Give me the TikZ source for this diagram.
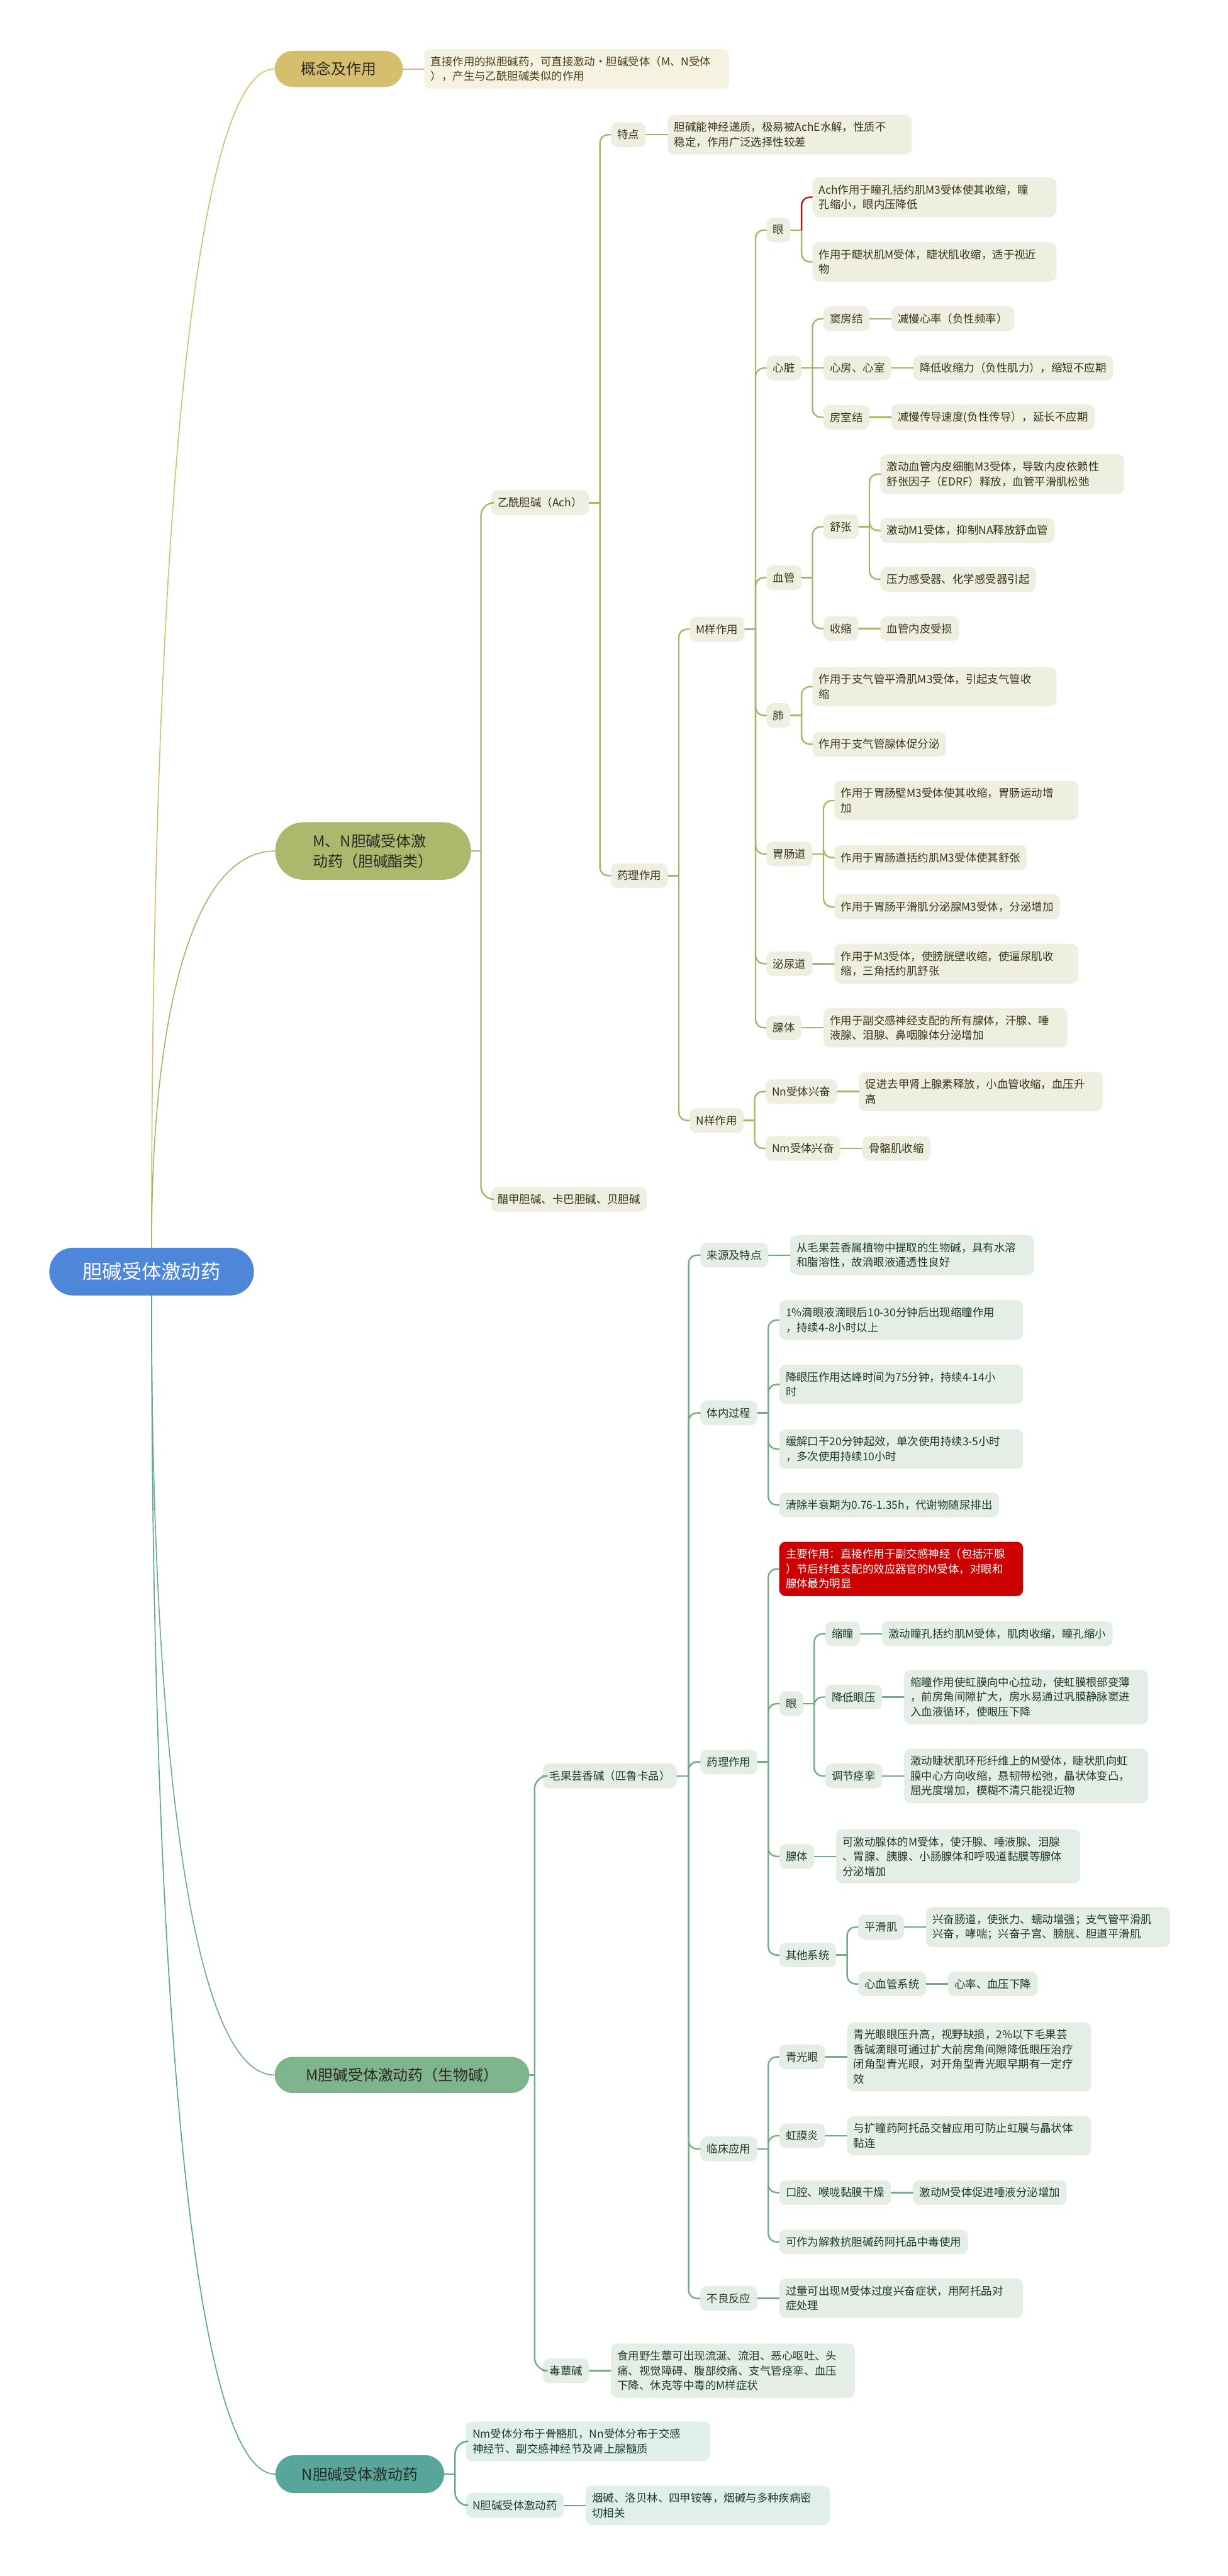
\documentclass[tikz,border=0pt]{standalone}
\usepackage{fontspec}
\setmainfont{Noto Sans CJK SC}
\usepackage{tikz}
\usetikzlibrary{positioning, calc}
\usepackage{xcolor}
\definecolor{rootblue}{HTML}{4E86DA}
\definecolor{goldfill}{HTML}{D5BE6E}
\definecolor{goldbg}{HTML}{F6F2E2}
\definecolor{goldtext}{HTML}{4A4016}
\definecolor{olivefill}{HTML}{ADB86C}
\definecolor{oliveline}{HTML}{A9B46B}
\definecolor{olivebg}{HTML}{EFEFE1}
\definecolor{olivetext}{HTML}{36351A}
\definecolor{greenfill}{HTML}{7FB48D}
\definecolor{greenline}{HTML}{72AB86}
\definecolor{greenbg}{HTML}{E4EEE7}
\definecolor{greentext}{HTML}{1F3A28}
\definecolor{tealfill}{HTML}{58A69B}
\definecolor{tealline}{HTML}{5AA69B}
\definecolor{tealbg}{HTML}{E1EFEC}
\definecolor{tealtext}{HTML}{1F3A34}
\definecolor{keyred}{HTML}{CC0000}
\definecolor{achred}{HTML}{B81414}
\definecolor{topictext}{HTML}{2A2A22}
\tikzset{
  root/.style={fill=rootblue, text=white, rounded corners=0.72cm, minimum width=6.225cm,
    minimum height=1.45cm, font=\fontsize{17}{20}\selectfont},
  topic/.style={anchor=west, text=topictext, font=\fontsize{13}{17.5}\selectfont, inner xsep=0pt,
    minimum height=1.1cm, rounded corners=0.55cm},
  item/.style={anchor=west, align=left, inner xsep=0.2cm, inner ysep=0.22cm, minimum height=0.75cm,
    rounded corners=0.2cm, font=\fontsize{9.5}{12.8}\selectfont},
  wrap/.style={item, text width=7.025cm},
  gbox/.style={item, text width=8.88cm, fill=goldbg, text=goldtext},
  olab/.style={item, fill=olivebg, text=olivetext},
  owrap/.style={wrap, fill=olivebg, text=olivetext},
  glab/.style={item, fill=greenbg, text=greentext},
  gwrap/.style={wrap, fill=greenbg, text=greentext},
  tlab/.style={item, fill=tealbg, text=tealtext},
  twrap/.style={wrap, fill=tealbg, text=tealtext},
  keybox/.style={wrap, fill=keyred, text=white},
  rootlink/.style={line width=0.9pt},
  link/.style={line width=1.3pt, rounded corners=0.25cm, line cap=round},
  goldlink/.style={link, draw=goldfill},
  olink/.style={link, draw=oliveline},
  glink/.style={link, draw=greenline},
  tlink/.style={link, draw=tealline},
}
\newcommand\fork[4][6.5]{%
  \draw[#2] (#3.east) -- ++(#1,0);
  \foreach \kid in {#4}
    \draw[#2] ($(#3.east)+(#1,0)$) |- (\kid.west);
}
\begin{document}
\begin{tikzpicture}[
    x=0.05cm, y=-0.05cm,
    node distance=0.65cm,
  ]
  \fill[white] (0,0) rectangle (747,1568);
  \useasboundingbox (0,0) rectangle (747,1568);

  \node[root] (root) at (92.25,774) {胆碱受体激动药};
  \node[topic, fill=goldfill, minimum width=3.9cm] (concept) at (167,42) {概念及作用};
  \node[topic, fill=olivefill, minimum width=5.95cm, minimum height=1.75cm, rounded corners=0.85cm,
    align=left] (mn) at (167.4,518) {M、N胆碱受体激\\动药（胆碱酯类）};
  \node[topic, fill=greenfill, minimum width=7.75cm] (mb) at (167,1263) {M胆碱受体激动药（生物碱）};
  \node[topic, fill=tealfill, minimum width=5.13cm, minimum height=1.15cm, rounded corners=0.57cm]
    (nb) at (167.5,1506) {N胆碱受体激动药};

  \draw[rootlink, goldfill] (root.north) .. controls (92,365) and (114.5,42) .. (concept.west);
  \draw[rootlink, oliveline] (root.north) .. controls (92,627) and (114.5,518) .. (mn.west);
  \draw[rootlink, greenline] (root.south) .. controls (92,1050) and (114.5,1263) .. (mb.west);
  \draw[rootlink, tealline] (root.south) .. controls (92,1183) and (114.5,1506) .. (nb.west);

  \node[gbox, right=0.635cm of concept] (conceptbox) {直接作用的拟胆碱药，可直接激动·胆碱受体（M、N受体\\），产生与乙酰胆碱类似的作用};

  \node[olab] (ach) at ($(mn.east)+(12,-212)$) {乙酰胆碱（Ach）};
  \node[olab] (mch) at ($(mn.east)+(12,212)$) {醋甲胆碱、卡巴胆碱、贝胆碱};
  \node[olab] (trait) at ($(ach.east)+(13,-224)$) {特点};
  \node[owrap, right=of trait] (traitbox) {胆碱能神经递质，极易被AchE水解，性质不\\稳定，作用广泛选择性较差};
  \node[olab] (pharmA) at ($(ach.east)+(13,227)$) {药理作用};
  \node[olab] (mlike) at ($(pharmA.east)+(13,-150)$) {M样作用};
  \node[olab] (nlike) at ($(pharmA.east)+(13,149)$) {N样作用};

  \node[olab] (eyeA) at ($(mlike.east)+(13,-243)$) {眼};
  \node[owrap] (eyeAch) at ($(eyeA.east)+(13,-20)$) {Ach作用于瞳孔括约肌M3受体使其收缩，瞳\\孔缩小，眼内压降低};
  \node[owrap] (eyeCil) at ($(eyeA.east)+(13,19.4)$) {作用于睫状肌M受体，睫状肌收缩，适于视近\\物};

  \node[olab] (heart) at ($(mlike.east)+(13,-159)$) {心脏};
  \node[olab] (sinus) at ($(heart.east)+(13,-30)$) {窦房结};
  \node[olab, right=of sinus] (sinusbox) {减慢心率（负性频率）};
  \node[olab] (atria) at ($(heart.east)+(13,0)$) {心房、心室};
  \node[olab, right=of atria] (atriabox) {降低收缩力（负性肌力），缩短不应期};
  \node[olab] (avnode) at ($(heart.east)+(13,30)$) {房室结};
  \node[olab, right=of avnode] (avbox) {减慢传导速度(负性传导），延长不应期};

  \node[olab] (vessel) at ($(mlike.east)+(13,-31.4)$) {血管};
  \node[olab] (dilate) at ($(vessel.east)+(13,-31)$) {舒张};
  \node[owrap] (dilA) at ($(dilate.east)+(13,-32)$) {激动血管内皮细胞M3受体，导致内皮依赖性\\舒张因子（EDRF）释放，血管平滑肌松弛};
  \node[olab] (dilB) at ($(dilate.east)+(13,2.3)$) {激动M1受体，抑制NA释放舒血管};
  \node[olab] (dilC) at ($(dilate.east)+(13,32)$) {压力感受器、化学感受器引起};
  \node[olab] (constr) at ($(vessel.east)+(13,31)$) {收缩};
  \node[olab, right=of constr] (constrbox) {血管内皮受损};

  \node[olab] (lung) at ($(mlike.east)+(13,52.5)$) {肺};
  \node[owrap] (lungA) at ($(lung.east)+(13,-17.5)$) {作用于支气管平滑肌M3受体，引起支气管收\\缩};
  \node[olab] (lungB) at ($(lung.east)+(13,17.5)$) {作用于支气管腺体促分泌};

  \node[olab] (gut) at ($(mlike.east)+(13,136.8)$) {胃肠道};
  \node[owrap] (gutA) at ($(gut.east)+(13,-32.5)$) {作用于胃肠壁M3受体使其收缩，胃肠运动增\\加};
  \node[olab] (gutB) at ($(gut.east)+(13,2.2)$) {作用于胃肠道括约肌M3受体使其舒张};
  \node[olab] (gutC) at ($(gut.east)+(13,32.2)$) {作用于胃肠平滑肌分泌腺M3受体，分泌增加};

  \node[olab] (urin) at ($(mlike.east)+(13,203.6)$) {泌尿道};
  \node[owrap, right=of urin] (urinbox) {作用于M3受体，使膀胱壁收缩，使逼尿肌收\\缩，三角括约肌舒张};
  \node[olab] (glandA) at ($(mlike.east)+(13,242.6)$) {腺体};
  \node[owrap, right=of glandA] (glandAbox) {作用于副交感神经支配的所有腺体，汗腺、唾\\液腺、泪腺、鼻咽腺体分泌增加};

  \node[olab] (nnex) at ($(nlike.east)+(13,-17.6)$) {Nn受体兴奋};
  \node[owrap, right=of nnex] (nnbox) {促进去甲肾上腺素释放，小血管收缩，血压升\\高};
  \node[olab] (nmex) at ($(nlike.east)+(13,17)$) {Nm受体兴奋};
  \node[olab, right=of nmex] (nmbox) {骨骼肌收缩};

  \node[glab] (pilo) at ($(mb.east)+(8,-182)$) {毛果芸香碱（匹鲁卡品）};
  \node[glab] (muscarine) at ($(mb.east)+(8,180)$) {毒蕈碱};
  \node[gwrap, right=of muscarine] (muscbox) {食用野生蕈可出现流涎、流泪、恶心呕吐、头\\痛、视觉障碍、腹部绞痛、支气管痉挛、血压\\下降、休克等中毒的M样症状};

  \node[glab] (source) at ($(pilo.east)+(14,-317)$) {来源及特点};
  \node[gwrap, right=of source] (sourcebox) {从毛果芸香属植物中提取的生物碱，具有水溶\\和脂溶性，故滴眼液通透性良好};
  \node[glab] (kinet) at ($(pilo.east)+(14,-221)$) {体内过程};
  \node[gwrap] (kinA) at ($(kinet.east)+(13,-56.5)$) {1\%滴眼液滴眼后10-30分钟后出现缩瞳作用\\，持续4-8小时以上};
  \node[gwrap] (kinB) at ($(kinet.east)+(13,-17.3)$) {降眼压作用达峰时间为75分钟，持续4-14小\\时};
  \node[gwrap] (kinC) at ($(kinet.east)+(13,22)$) {缓解口干20分钟起效，单次使用持续3-5小时\\，多次使用持续10小时};
  \node[glab] (kinD) at ($(kinet.east)+(13,56)$) {清除半衰期为0.76-1.35h，代谢物随尿排出};

  \node[glab] (pharmB) at ($(pilo.east)+(14,-8.5)$) {药理作用};
  \node[keybox] (mainfx) at ($(pharmB.east)+(13,-117.5)$) {主要作用：直接作用于副交感神经（包括汗腺\\）节后纤维支配的效应器官的M受体，对眼和\\腺体最为明显};
  \node[glab] (eyeB) at ($(pharmB.east)+(13,-35.5)$) {眼};
  \node[glab] (miosis) at ($(eyeB.east)+(13,-42.5)$) {缩瞳};
  \node[glab, right=of miosis] (miosisbox) {激动瞳孔括约肌M受体，肌肉收缩，瞳孔缩小};
  \node[glab] (iop) at ($(eyeB.east)+(13,-4)$) {降低眼压};
  \node[gwrap, right=of iop] (iopbox) {缩瞳作用使虹膜向中心拉动，使虹膜根部变薄\\，前房角间隙扩大，房水易通过巩膜静脉窦进\\入血液循环，使眼压下降};
  \node[glab] (accom) at ($(eyeB.east)+(13,44)$) {调节痉挛};
  \node[gwrap, right=of accom] (accombox) {激动睫状肌环形纤维上的M受体，睫状肌向虹\\膜中心方向收缩，悬韧带松弛，晶状体变凸，\\屈光度增加，模糊不清只能视近物};
  \node[glab] (glandB) at ($(pharmB.east)+(13,57.5)$) {腺体};
  \node[gwrap, right=of glandB] (glandBbox) {可激动腺体的M受体，使汗腺、唾液腺、泪腺\\、胃腺、胰腺、小肠腺体和呼吸道黏膜等腺体\\分泌增加};
  \node[glab] (other) at ($(pharmB.east)+(13,117.5)$) {其他系统};
  \node[glab] (smooth) at ($(other.east)+(13,-17)$) {平滑肌};
  \node[gwrap, right=of smooth] (smoothbox) {兴奋肠道，使张力、蠕动增强；支气管平滑肌\\兴奋，哮喘；兴奋子宫、膀胱、胆道平滑肌};
  \node[glab] (cardio) at ($(other.east)+(13,17.6)$) {心血管系统};
  \node[glab, right=of cardio] (cardiobox) {心率、血压下降};

  \node[glab] (clinic) at ($(pilo.east)+(14,227)$) {临床应用};
  \node[glab] (glauc) at ($(clinic.east)+(13,-56)$) {青光眼};
  \node[gwrap, right=of glauc] (glaucbox) {青光眼眼压升高，视野缺损，2\%以下毛果芸\\香碱滴眼可通过扩大前房角间隙降低眼压治疗\\闭角型青光眼，对开角型青光眼早期有一定疗\\效};
  \node[glab] (iritis) at ($(clinic.east)+(13,-8)$) {虹膜炎};
  \node[gwrap, right=of iritis] (iritisbox) {与扩瞳药阿托品交替应用可防止虹膜与晶状体\\黏连};
  \node[glab] (mouth) at ($(clinic.east)+(13,26.6)$) {口腔、喉咙黏膜干燥};
  \node[glab, right=of mouth] (mouthbox) {激动M受体促进唾液分泌增加};
  \node[glab] (antidote) at ($(clinic.east)+(13,56.6)$) {可作为解救抗胆碱药阿托品中毒使用};
  \node[glab] (adverse) at ($(pilo.east)+(14,318)$) {不良反应};
  \node[gwrap, right=of adverse] (adversebox) {过量可出现M受体过度兴奋症状，用阿托品对\\症处理};

  \node[twrap] (ndist) at ($(nb.east)+(13,-20)$) {Nm受体分布于骨骼肌，Nn受体分布于交感\\神经节、副交感神经节及肾上腺髓质};
  \node[tlab] (nago) at ($(nb.east)+(13,19)$) {N胆碱受体激动药};
  \node[twrap, right=of nago] (nicbox) {烟碱、洛贝林、四甲铵等，烟碱与多种疾病密\\切相关};

  \draw[goldlink] (concept) -- (conceptbox);
  \fork[6]{olink, rounded corners=0.4cm}{mn}{ach,mch}
  \fork{olink}{ach}{trait,pharmA}
  \fork{olink}{pharmA}{mlike,nlike}
  \fork{olink}{mlike}{eyeA,heart,vessel,lung,gut,urin,glandA}
  \draw[olink] (eyeA.east) -- ++(6.5,0);
  \draw[olink] ($(eyeA.east)+(6.5,0)$) |- (eyeCil.west);
  \draw[olink, achred] ($(eyeA.east)+(6.5,0)$) |- (eyeAch.west);
  \fork{olink}{heart}{sinus,avnode}
  \draw[olink] (heart) -- (atria);
  \fork{olink}{vessel}{dilate,constr}
  \fork{olink}{dilate}{dilA,dilB,dilC}
  \fork{olink}{lung}{lungA,lungB}
  \fork{olink}{gut}{gutA,gutB,gutC}
  \fork{olink}{nlike}{nnex,nmex}
  \foreach \a/\b in {trait/traitbox, sinus/sinusbox, atria/atriabox, avnode/avbox, constr/constrbox,
    urin/urinbox, glandA/glandAbox, nnex/nnbox, nmex/nmbox}
    \draw[olink] (\a) -- (\b);

  \fork[3]{glink, rounded corners=0.4cm}{mb}{pilo,muscarine}
  \fork[7]{glink}{pilo}{source,kinet,pharmB,clinic,adverse}
  \fork{glink}{kinet}{kinA,kinB,kinC,kinD}
  \fork{glink}{pharmB}{mainfx,eyeB,glandB,other}
  \fork{glink}{eyeB}{miosis,iop,accom}
  \fork{glink}{other}{smooth,cardio}
  \fork{glink}{clinic}{glauc,iritis,mouth,antidote}
  \foreach \a/\b in {muscarine/muscbox, source/sourcebox, miosis/miosisbox, iop/iopbox,
    accom/accombox, glandB/glandBbox, smooth/smoothbox, cardio/cardiobox, glauc/glaucbox,
    iritis/iritisbox, mouth/mouthbox, adverse/adversebox}
    \draw[glink] (\a) -- (\b);

  \fork{tlink, rounded corners=0.4cm}{nb}{ndist,nago}
  \draw[tlink] (nago) -- (nicbox);
\end{tikzpicture}
\end{document}
